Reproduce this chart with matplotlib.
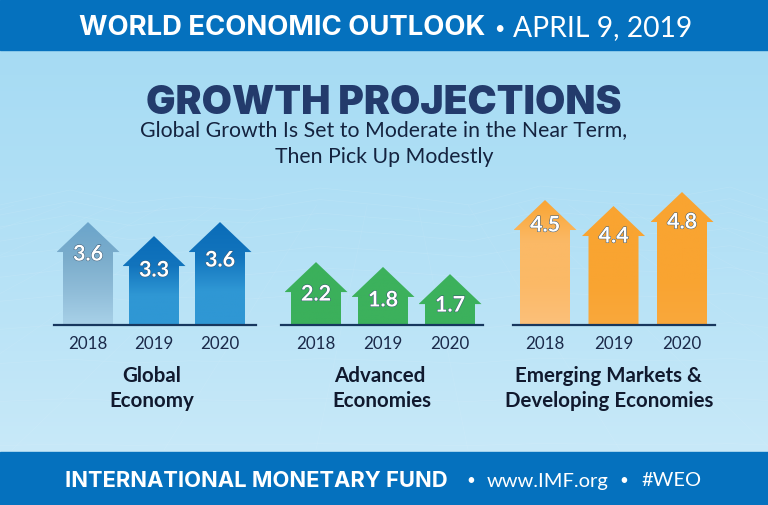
import numpy as np
import matplotlib
matplotlib.use("Agg")
import matplotlib.pyplot as plt
import matplotlib.patheffects as pe
from matplotlib.colors import LinearSegmentedColormap
from matplotlib.patches import Polygon

years = ["2018", "2019", "2020"]

global_values = [3.6, 3.3, 3.6]
advanced_values = [2.2, 1.8, 1.7]
emerging_values = [4.5, 4.4, 4.8]

# the arrows in the picture are not quite to scale, these are the heights as drawn
global_drawn = [3.6, 3.11, 3.6]
advanced_drawn = [2.2, 2.03, 1.78]
emerging_drawn = [4.37, 4.16, 4.65]

# ridge of the faint mesh behind the chart
ridge_x = [0, 70, 130, 190, 250, 320, 400, 470, 540, 610, 680, 730, 768]
ridge_y = [205, 190, 203, 196, 200, 188, 196, 205, 186, 192, 196, 187, 200]

W, H = 768, 505
PX_PER_UNIT = 28.6
BASE_Y = 325


def add_gradient(ax, patch, extent, stops):
    cmap = LinearSegmentedColormap.from_list("g", stops)
    grad = np.linspace(0, 1, 128).reshape(-1, 1)
    x0, x1 = ax.get_xlim()
    y0, y1 = ax.get_ylim()
    im = ax.imshow(grad, cmap=cmap, extent=extent, aspect="auto", origin="upper", zorder=2)
    patch.set_facecolor("none")
    patch.set_edgecolor("none")
    ax.add_patch(patch)
    im.set_clip_path(patch)
    ax.set_xlim(x0, x1)
    ax.set_ylim(y0, y1)


def draw_panel(fig, values, drawn, center0, step, left, right, colors, drops):
    # one axes per group, x is the year index and y is the value
    top = 165
    ax = fig.add_axes([left / W, 1 - BASE_Y / H, (right - left) / W, (BASE_Y - top) / H])
    ax.set_xlim((left - center0) / step, (right - center0) / step)
    ax.set_ylim(0, (BASE_Y - top) / PX_PER_UNIT)
    ax.patch.set_alpha(0)
    for s in ["top", "left", "right"]:
        ax.spines[s].set_visible(False)
    ax.spines["bottom"].set_color("#17375e")
    ax.spines["bottom"].set_linewidth(1.6)
    ax.set_yticks([])
    ax.set_xticks(range(len(years)))
    ax.set_xticklabels(years, fontsize=12.2, color="#1b2a4a", family="Lato")
    ax.tick_params(axis="x", length=0, pad=8)

    head_h = 30 / PX_PER_UNIT
    head_w = 31.5 / step
    shaft_w = 25 / step
    for i, h in enumerate(drawn):
        pts = [(i - shaft_w, 0), (i - shaft_w, h - head_h), (i - head_w, h - head_h), (i, h),
               (i + head_w, h - head_h), (i + shaft_w, h - head_h), (i + shaft_w, 0)]
        poly = Polygon(pts, closed=True, transform=ax.transData)
        add_gradient(ax, poly, (i - head_w, i + head_w, 0, h), colors[i])
        ax.text(i, h - drops[i] / PX_PER_UNIT, f"{values[i]:.1f}", color="white", fontsize=15.5,
                ha="center", va="center", family="Lato", fontweight="bold", zorder=5,
                path_effects=[pe.withStroke(linewidth=0.7, foreground="#33536f")])
    return ax


fig = plt.figure(figsize=(W / 100, H / 100), dpi=100)
bg = fig.add_axes([0, 0, 1, 1])
bg.set_xlim(0, W)
bg.set_ylim(H, 0)
bg.axis("off")

sky = LinearSegmentedColormap.from_list("sky", ["#a3daf3", "#b4e1f6", "#cdebf9"])
bg.imshow(np.linspace(0, 1, 128).reshape(-1, 1), cmap=sky, extent=(0, W, H, 0), aspect="auto")

# mesh: the ridge repeated lower down, spreading out, plus some cross lines
rx = np.array(ridge_x)
ry = np.array(ridge_y)
for k, off in enumerate([0, 6, 14, 24, 36, 52, 72, 96, 126, 160, 200]):
    flat = max(0.0, 1 - k * 0.09)
    bg.plot(rx, ry + off + (1 - flat) * (250 - ry), color="white", lw=0.5, alpha=0.1)
for x_top, x_bot in zip(range(-200, 1000, 70), range(-900, 1700, 152)):
    bg.plot([x_top * 0.72 + 108, x_bot], [205, 450], color="white", lw=0.5, alpha=0.08)

bg.axhspan(0, 50, color="#0571be", zorder=3)
bg.axhspan(452, H, color="#0571be", zorder=3)

bg.text(79, 28, "WORLD ECONOMIC OUTLOOK", color="white", fontsize=19.8, fontweight="bold",
        family="Inter", ha="left", va="center", zorder=4)
bg.text(499, 29, "•", color="white", fontsize=13, family="Lato", ha="center", va="center", zorder=4)
bg.text(513, 28, "APRIL 9, 2019", color="white", fontsize=20.3, family="Lato", ha="left", va="center", zorder=4)

bg.text(384, 103, "GROWTH PROJECTIONS", color="#233b6c", fontsize=28.1, fontweight="black",
        family="Inter", ha="center", va="center", zorder=4)
bg.text(384, 130, "Global Growth Is Set to Moderate in the Near Term,", color="#14233f", fontsize=15.3,
        family="Lato", ha="center", va="center", zorder=4)
bg.text(384, 157, "Then Pick Up Modestly", color="#14233f", fontsize=15.3,
        family="Lato", ha="center", va="center", zorder=4)

bg.text(65, 481, "INTERNATIONAL MONETARY FUND", color="white", fontsize=15.8, fontweight="bold",
        family="Inter", ha="left", va="center", zorder=4)
bg.text(471, 481, "•", color="white", fontsize=11, family="Lato", ha="center", va="center", zorder=4)
bg.text(487, 481, "www.IMF.org", color="white", fontsize=14.5, family="Lato", ha="left", va="center", zorder=4)
bg.text(624, 481, "•", color="white", fontsize=11, family="Lato", ha="center", va="center", zorder=4)
bg.text(641, 481, "#WEO", color="white", fontsize=14.4, family="Lato", ha="left", va="center", zorder=4)

for x, y, s in [(152, 376, "Global"), (152, 401, "Economy"), (380, 376, "Advanced"),
                (382, 401, "Economies"), (608, 376, "Emerging Markets &"),
                (609, 401, "Developing Economies")]:
    bg.text(x, y, s, color="#10192e", fontsize=14.8, fontweight="bold", family="Lato",
            ha="center", va="center", zorder=4)

blue_colors = [["#6ba5cb", "#7aaccb", "#8fbcd8", "#a8d1e8"],
               ["#0a6cb8", "#1274bd", "#2f97d4", "#2f97d4"],
               ["#0a6cb8", "#1274bd", "#2f97d4", "#2f97d4"]]
green_colors = [["#3bb05b", "#3bb05b"], ["#3cb15c", "#3cb15c"], ["#3cb15c", "#3cb15c"]]
orange_colors = [["#f9a533", "#fbb966", "#fbb966", "#fcc07a"],
                 ["#f9a431", "#f9a431", "#f9a431", "#faa83c"],
                 ["#f9a431", "#f9a431", "#f9a431", "#faa83c"]]

draw_panel(fig, global_values, global_drawn, 88, 66, 54, 256, blue_colors, [32, 34, 38])
draw_panel(fig, advanced_values, advanced_drawn, 316, 67, 281, 483, green_colors, [32, 33, 31])
draw_panel(fig, emerging_values, emerging_drawn, 545, 68.5, 513, 715, orange_colors, [25, 30, 30])

fig.savefig("out.png", dpi=100)
plt.close(fig)
